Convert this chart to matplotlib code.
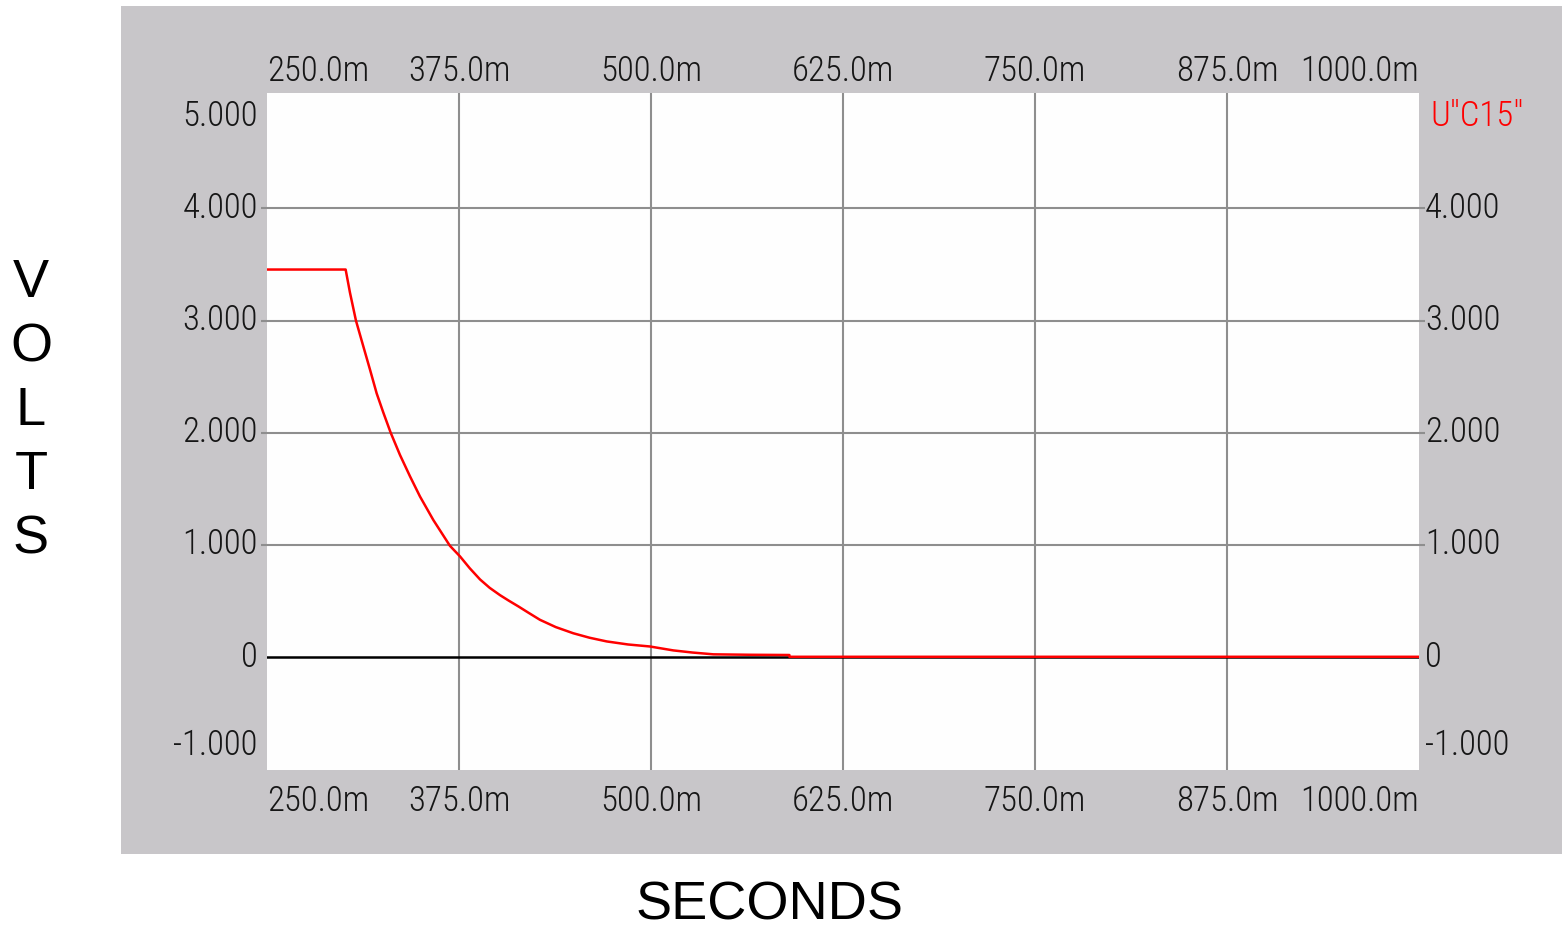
import matplotlib
matplotlib.use("Agg")
import matplotlib.pyplot as plt
from matplotlib import font_manager

# values (time in ms, voltage in V)
t_ms = [250.0, 301.2, 304.0, 307.9, 312.7, 317.1, 321.4, 325.7, 330.5, 336.6,
        343.1, 349.6, 358.3, 369.1, 375.7, 382.0, 388.7, 395.0, 401.7, 407.5,
        413.6, 420.0, 427.7, 438.0, 449.4, 460.0, 471.2, 485.0, 499.3, 514.5,
        527.0, 540.6, 565.0, 590.1, 590.1, 1000.0]
u_c15 = [3.455, 3.455, 3.25, 3.00, 2.77, 2.56, 2.35, 2.18, 2.00, 1.80,
         1.61, 1.43, 1.22, 0.99, 0.895, 0.79, 0.69, 0.615, 0.55, 0.50,
         0.45, 0.395, 0.33, 0.265, 0.21, 0.17, 0.137, 0.11, 0.092, 0.057,
         0.038, 0.022, 0.018, 0.016, 0.0, 0.0]

x_ticks = [250, 375, 500, 625, 750, 875, 1000]
x_labels = ["250.0m", "375.0m", "500.0m", "625.0m", "750.0m", "875.0m", "1000.0m"]
y_ticks = [-1, 0, 1, 2, 3, 4, 5]
y_left_labels = ["-1.000", "0", "1.000", "2.000", "3.000", "4.000", "5.000"]
y_right_labels = ["-1.000", "0", "1.000", "2.000", "3.000", "4.000", 'U"C15"']

names = {f.name for f in font_manager.fontManager.ttflist}
tick_font, tick_size = "DejaVu Sans Condensed", 21
for cand, size in [("Liberation Sans Narrow", 25), ("Roboto Condensed", 25),
                   ("Open Sans Condensed", 24), ("Noto Sans Condensed", 23)]:
    if cand in names:
        tick_font, tick_size = cand, size
        break

fig = plt.figure(figsize=(15.62, 9.31), dpi=100)
fig.patch.set_facecolor("white")

# gray instrument panel behind the plot
bg = fig.add_axes([121 / 1562, 1 - 854 / 931, 1 - 121 / 1562, (854 - 6) / 931], zorder=-5)
bg.set_facecolor("#c8c6c9")
bg.set_xticks([])
bg.set_yticks([])
for s in bg.spines.values():
    s.set_visible(False)

ax = fig.add_axes([267 / 1562, 1 - 770 / 931, (1419 - 267) / 1562, (770 - 93) / 931], zorder=1)
ax.set_facecolor("#fefefe")
ax.set_xlim(250, 1000)
ax.set_ylim(-1.01, 5.03)
for s in ax.spines.values():
    s.set_visible(False)

# grid
for xv in x_ticks[1:-1]:
    ax.axvline(xv, color="#8e8e8e", lw=1.5, zorder=1)
for yv in [1, 2, 3, 4]:
    ax.axhline(yv, color="#8e8e8e", lw=1.5, zorder=1)
ax.axhline(0, color="black", lw=1.8, zorder=2)

ax.plot(t_ms, u_c15, color="#ff0000", lw=1.8, zorder=3)

# short gray tick marks on both sides
ax.set_xticks([])
ax.set_yticks([1, 2, 3, 4])
ax.set_yticklabels([])
ax.tick_params(axis="y", which="both", left=True, right=True, length=4, width=1.5,
               color="#8e8e8e", direction="out")

tx = ax.get_xaxis_transform()
ty = ax.get_yaxis_transform()
txt_kw = dict(fontsize=tick_size, family=tick_font, weight="light", color="#161616")

# x tick labels (top and bottom); end labels are kept inside the plot width
for xv, lab in zip(x_ticks, x_labels):
    ha = "left" if xv == x_ticks[0] else ("right" if xv == x_ticks[-1] else "center")
    ax.text(xv, 1.008, lab, transform=tx, ha=ha, va="bottom", **txt_kw)
    ax.text(xv, -0.022, lab, transform=tx, ha=ha, va="top", **txt_kw)


# y tick labels; end labels are nudged inward like the instrument does
def label_y(v):
    if v == y_ticks[-1]:
        return v - 0.18
    if v == y_ticks[0]:
        return v + 0.21
    return v


for yv, lab in zip(y_ticks, y_left_labels):
    ax.text(-0.008, label_y(yv), lab, transform=ty, ha="right", va="center", **txt_kw)
for yv, lab in zip(y_ticks, y_right_labels):
    kw = dict(txt_kw)
    if yv == y_ticks[-1]:
        kw["color"] = "#ff0000"
    ax.text(1.005 if yv != y_ticks[-1] else 1.01, label_y(yv), lab, transform=ty,
            ha="left", va="center", **kw)

# axis titles
fig.text(769 / 1562, 1 - 906 / 931, "SECONDS", ha="center", va="center",
         fontsize=39, family="Liberation Sans", color="black")
for i, ch in enumerate("VOLTS"):
    fig.text(31 / 1562, 1 - (283 + 64 * i) / 931, ch, ha="center", va="center",
             fontsize=39, family="Liberation Sans", color="black")

fig.savefig("out.png", dpi=100)
